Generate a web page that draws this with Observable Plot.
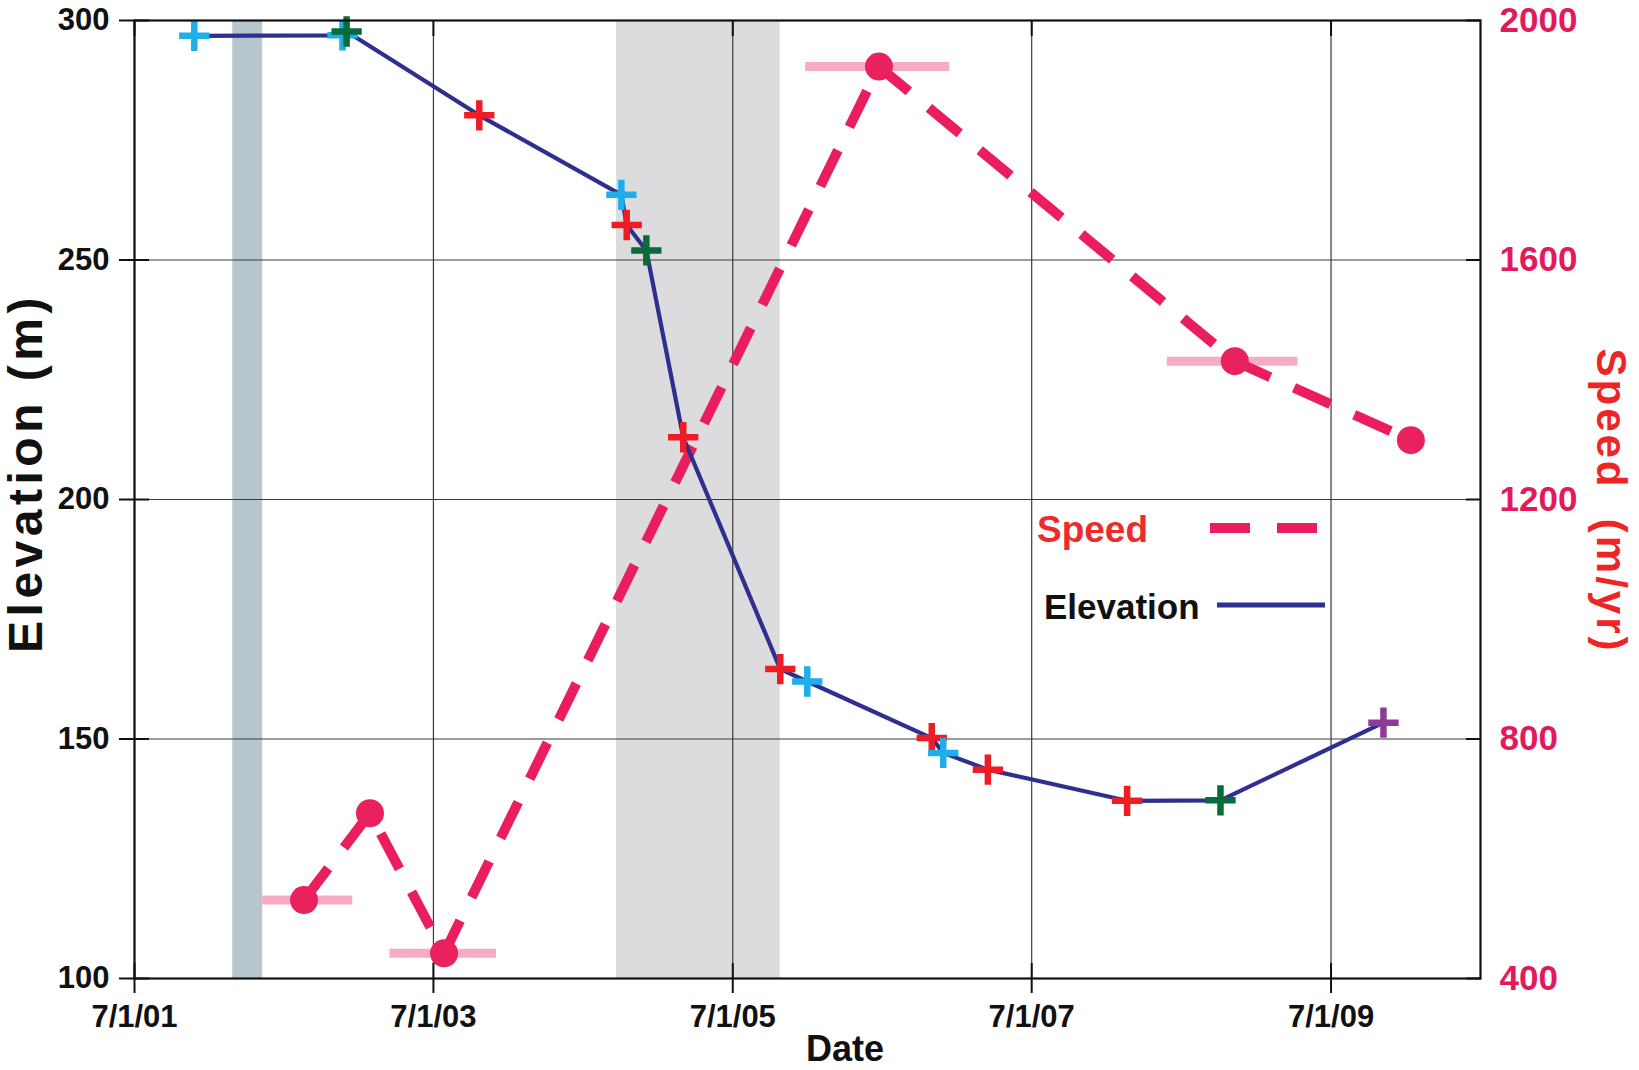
<!DOCTYPE html>
<html>
<head>
<meta charset="utf-8">
<script src="https://cdn.jsdelivr.net/npm/d3@7"></script>
<script src="https://cdn.jsdelivr.net/npm/@observablehq/plot@0.6"></script>
<style>
  html, body { margin: 0; padding: 0; background: #fff; }
  #wrap { position: relative; width: 1639px; height: 1070px; overflow: hidden; }
  #wrap svg { position: absolute; left: 0; top: 0; }
  .ttl { font-family: "Liberation Sans", Arial, sans-serif; font-weight: bold; }
</style>
</head>
<body>
<div id="wrap"></div>
<script>
// ---------- data ----------
// Elevation observations (m), with the source of each observation
const elevDates   = ["2001-11-24","2002-11-21","2002-12-01","2003-10-21","2004-10-02","2004-10-15","2004-12-02","2005-03-02","2005-10-25","2005-12-30","2006-10-30","2006-11-27","2007-03-16","2008-02-19","2008-10-04","2009-11-06"];
const elevValues  = [296.8, 296.9, 297.7, 280.2, 263.6, 257.3, 252.0, 213.0, 164.6, 162.0, 150.2, 147.1, 143.6, 137.1, 137.2, 153.4];
const elevSources = ["A","A","C","B","A","B","C","B","B","A","B","A","B","B","C","D"];
const sourceNames = ["A","B","C","D"];

// Speed estimates (m/yr), with time span of each estimate (null = no bar)
const speedDates  = ["2002-08-19","2003-01-27","2003-07-27","2006-06-23","2008-11-08","2010-01-12"];
const speedValues = [531, 676, 442, 1923, 1431, 1299];
const spanStart   = ["2002-05-10", null, "2003-03-17", "2005-12-26", "2008-05-27", null];
const spanEnd     = ["2002-12-16", null, "2003-12-02", "2006-12-13", "2009-04-11", null];

// Shaded periods
const band1 = {start: "2002-02-26", end: "2002-05-10"};
const band2 = {start: "2004-09-20", end: "2005-10-25"};

// Axes
const xTickDates  = ["2001-07-01","2003-07-01","2005-07-01","2007-07-01","2009-07-01"];
const xTickLabels = ["7/1/01","7/1/03","7/1/05","7/1/07","7/1/09"];
const elevTicks   = [100, 150, 200, 250, 300];
const speedTicks  = [400, 800, 1200, 1600, 2000];
const xDomain     = ["2001-07-01", "2010-07-01"];
const elevDomain  = [100, 300];
const speedDomain = [400, 2000];

// ---------- build ----------
const D = s => new Date(s + "T00:00:00Z");
const toElev = d3.scaleLinear(speedDomain, elevDomain);

const elev = elevDates.map((d, i) => ({date: D(d), value: elevValues[i], source: elevSources[i]}));
const speed = speedDates.map((d, i) => ({date: D(d), value: toElev(speedValues[i]), speed: speedValues[i]}));
const spans = speedDates.map((d, i) => spanStart[i] ? {start: D(spanStart[i]), end: D(spanEnd[i]), value: toElev(speedValues[i])} : null).filter(Boolean);
const xTicks = xTickDates.map(D);
const xLabel = d => xTickLabels[xTicks.findIndex(t => +t === +d)];
const speedTickPos = speedTicks.map(toElev);
const speedLabel = e => String(speedTicks[speedTickPos.findIndex(t => Math.abs(t - e) < 1e-6)]);

const W = 1639, H = 1070;
const mL = 134, mR = 159, mT = 20, mB = 92;

const chart = Plot.plot({
  width: W, height: H,
  marginLeft: mL, marginRight: mR, marginTop: mT, marginBottom: mB,
  style: {fontFamily: "Liberation Sans, Arial, sans-serif", fontWeight: "bold", fontSize: "30px", color: "#111", background: "transparent", overflow: "visible"},
  x: {type: "utc", domain: xDomain.map(D), label: null},
  y: {domain: elevDomain, label: null},
  color: {type: "ordinal", domain: sourceNames, range: ["#1eaee9", "#ee1c25", "#0a6b3a", "#8e3a99"]},
  marks: [
    Plot.rect([band1], {x1: d => D(d.start), x2: d => D(d.end), fill: "#b7c6cd"}),
    Plot.rect([band2], {x1: d => D(d.start), x2: d => D(d.end), fill: "#dcdcdf"}),
    Plot.gridX(xTicks, {stroke: "#3a3a3a", strokeOpacity: 1, strokeWidth: 1.2}),
    Plot.gridY(elevTicks, {stroke: "#3a3a3a", strokeOpacity: 1, strokeWidth: 1.2}),
    Plot.ruleY(spans, {x1: "start", x2: "end", y: "value", stroke: "#f5a3bd", strokeWidth: 9, strokeOpacity: 0.9}),
    Plot.line(speed, {x: "date", y: "value", stroke: "#ea1e5e", strokeWidth: 10, strokeDasharray: "40,26", strokeLinecap: "butt"}),
    Plot.dot(speed, {x: "date", y: "value", r: 14, fill: "#ea215f"}),
    Plot.line(elev, {x: "date", y: "value", stroke: "#2e2f8e", strokeWidth: 4.2}),
    Plot.dot(elev, {x: "date", y: "value", symbol: "plus", r: 9.8, stroke: "source", fill: "none", strokeWidth: 6.5}),
    Plot.frame({stroke: "#111", strokeWidth: 2.2}),
    Plot.axisY(elevTicks, {anchor: "left", tickSize: 15, tickPadding: 10, strokeWidth: 2, fontSize: 31, label: null}),
    Plot.axisY(elevTicks, {anchor: "left", tickSize: -15, tickFormat: () => "", strokeWidth: 2, label: null}),
    Plot.axisY(speedTickPos, {anchor: "right", tickSize: -15, tickFormat: () => "", strokeWidth: 2, label: null}),
    Plot.axisY(speedTickPos, {anchor: "right", tickSize: 0, tickPadding: 19, tickFormat: speedLabel, fill: "#e3195b", fontSize: 35, label: null}),
    Plot.axisX(xTicks, {anchor: "bottom", tickSize: 15, tickPadding: 11, tickFormat: xLabel, strokeWidth: 2, fontSize: 31, label: null}),
    Plot.axisX(xTicks, {anchor: "bottom", tickSize: -15, tickFormat: () => "", strokeWidth: 2, label: null}),
    Plot.axisX(xTicks, {anchor: "top", tickSize: -15, tickFormat: () => "", strokeWidth: 2, label: null})
  ]
});

const wrap = document.getElementById("wrap");
wrap.appendChild(chart);

// ---------- titles and legend (annotation layer) ----------
const ns = "http://www.w3.org/2000/svg";
const over = document.createElementNS(ns, "svg");
over.setAttribute("width", W); over.setAttribute("height", H);
wrap.appendChild(over);
function txt(s, attrs) {
  const t = document.createElementNS(ns, "text");
  t.setAttribute("class", "ttl");
  for (const k in attrs) t.setAttribute(k, attrs[k]);
  t.textContent = s;
  over.appendChild(t);
  return t;
}
function ln(attrs) {
  const l = document.createElementNS(ns, "line");
  for (const k in attrs) l.setAttribute(k, attrs[k]);
  over.appendChild(l);
}
txt("Elevation (m)", {transform: "translate(42,473) rotate(-90)", "text-anchor": "middle", "font-size": 48, fill: "#111", "letter-spacing": 4.5});
txt("Speed\u00a0\u00a0(m/yr)", {transform: "translate(1597,501) rotate(90)", "text-anchor": "middle", "font-size": 42, fill: "#ee2525", "letter-spacing": 3});
txt("Date", {x: 845, y: 1061, "text-anchor": "middle", "font-size": 36, fill: "#111"});
// legend
txt("Speed", {x: 1037, y: 542, "font-size": 37, fill: "#ee2b2b"});
ln({x1: 1210, x2: 1318, y1: 528, y2: 528, stroke: "#ea1e5e", "stroke-width": 10, "stroke-dasharray": "40,27"});
txt("Elevation", {x: 1044, y: 619, "font-size": 35, fill: "#111"});
ln({x1: 1217, x2: 1325, y1: 605, y2: 605, stroke: "#2e2f8e", "stroke-width": 5});
</script>
</body>
</html>
